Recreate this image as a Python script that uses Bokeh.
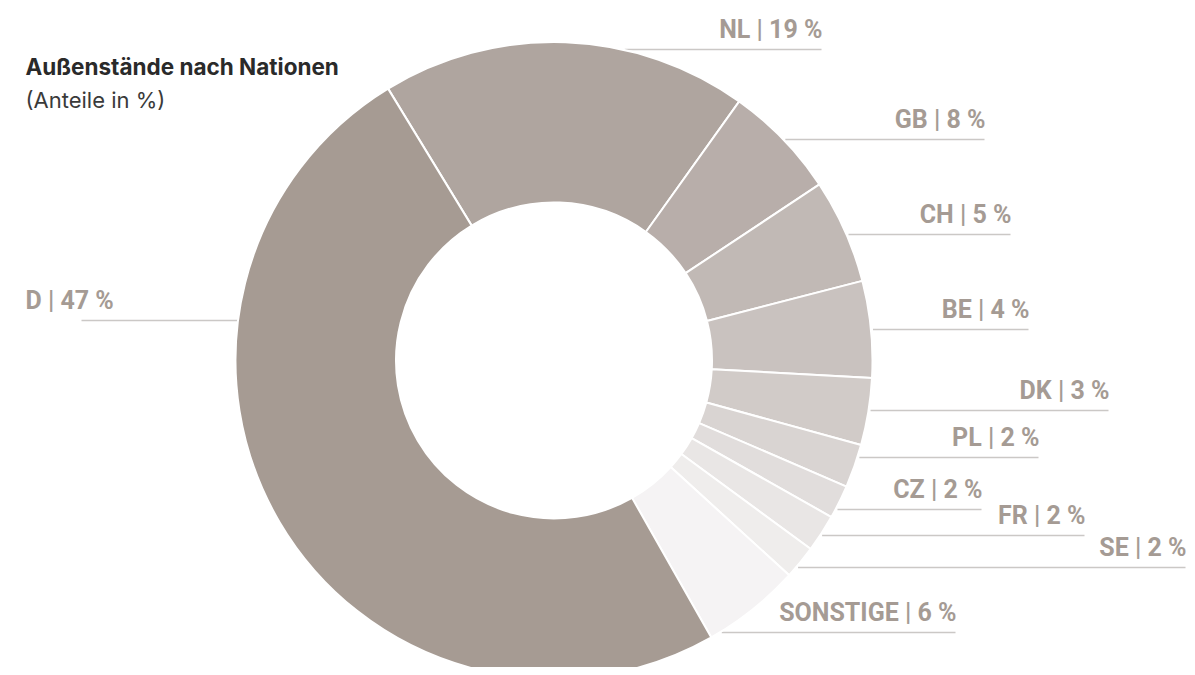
import numpy as np
from bokeh.plotting import figure
from bokeh.models import Range1d, ColumnDataSource
from bokeh.core.properties import value
from bokeh.embed import file_html
from bokeh.resources import INLINE

# ---- data ----
countries = ["NL", "GB", "CH", "BE", "DK", "PL", "CZ", "FR", "SE", "SONSTIGE", "D"]
label_pct = [19, 8, 5, 4, 3, 2, 2, 2, 2, 6, 47]
# shares as drawn in the picture (percent of the ring)
drawn_share = [18.6, 5.8, 5.3, 4.9, 3.4, 2.2, 1.7, 1.9, 1.7, 5.0, 49.5]
colors = ["#afa59f", "#b8aeaa", "#c1b9b5", "#c9c2bf", "#d1cbc8", "#d9d4d2",
          "#e1dddc", "#e9e6e5", "#efedec", "#f5f3f4", "#a69b93"]

title = "Außenstände nach Nationen"
subtitle = "(Anteile in %)"

# ---- layout (screen pixels) ----
W, H = 1187, 667
CX, CY = 553.5, 360.0
R_OUT, R_IN = 318.5, 158.0
START_DEG = -31.4  # clockwise from top, where NL begins
TXT_DY = 8  # compensation for text baseline rendering

label_line_y = [49, 139, 234, 329, 410, 457, 509, 535, 567, 632, 320]
label_line_end = [821, 984, 1010, 1028, 1108, 1038, 981, 1084, 1185, 955, 81]

def Y(sy):
    return H - sy

p = figure(width=W, height=H, x_range=Range1d(0, W), y_range=Range1d(0, H),
           output_backend="svg", toolbar_location=None, min_border=0)
p.axis.visible = False
p.grid.visible = False
p.outline_line_color = None
p.background_fill_color = "white"
p.border_fill_color = "white"

share = np.array(drawn_share, dtype=float)
share = share / share.sum() * 360.0
c_end = START_DEG + np.cumsum(share)
c_start = c_end - share
start_a = np.pi / 2 - np.radians(c_start)
end_a = np.pi / 2 - np.radians(c_end)

# leader lines
xs, ys = [], []
for i, c in enumerate(countries):
    sy = label_line_y[i]
    dy = sy - CY
    dx = np.sqrt(max(R_OUT ** 2 - dy ** 2, 0))
    if c == "D":
        x0, x1 = label_line_end[i], CX - dx
    else:
        x0, x1 = CX + dx + 2, label_line_end[i]
    xs.append([x0, x1])
    ys.append([Y(sy), Y(sy)])
p.multi_line(xs=xs, ys=ys, line_color="#cbc8c6", line_width=1.3)

src = ColumnDataSource(dict(start=start_a, end=end_a, color=colors, name=countries))
p.annular_wedge(x=CX, y=Y(CY), inner_radius=R_IN, outer_radius=R_OUT,
                start_angle="start", end_angle="end", direction="clock",
                fill_color="color", line_color="white", line_width=2, source=src)

# labels
tx, ty, tt, ta = [], [], [], []
for i, c in enumerate(countries):
    txt = f"{c} | {label_pct[i]} %"
    if c == "D":
        tx.append(25); ta.append("left")
    else:
        tx.append(label_line_end[i] + 1); ta.append("right")
    ty.append(Y(label_line_y[i] - 12 - TXT_DY))
    tt.append(txt)
lsrc = ColumnDataSource(dict(x=tx, y=ty, t=tt, a=ta))
p.text(x="x", y="y", text="t", text_align="a", text_baseline="alphabetic",
       text_font=value("Roboto"), text_font_style="bold", text_font_size="25px",
       text_color="#a59b94", source=lsrc)

p.text(x=[25], y=[Y(73.5 - TXT_DY)], text=[title], text_font=value("Inter"),
       text_font_style="bold", text_font_size="22.5px", text_color="#2a2a2a",
       text_baseline="alphabetic")
p.text(x=[25], y=[Y(107 - TXT_DY)], text=[subtitle], text_font=value("Inter"),
       text_font_style="normal", text_font_size="22px", text_color="#3a3a3a",
       text_baseline="alphabetic")

open("out.html", "w").write(file_html(p, INLINE))
